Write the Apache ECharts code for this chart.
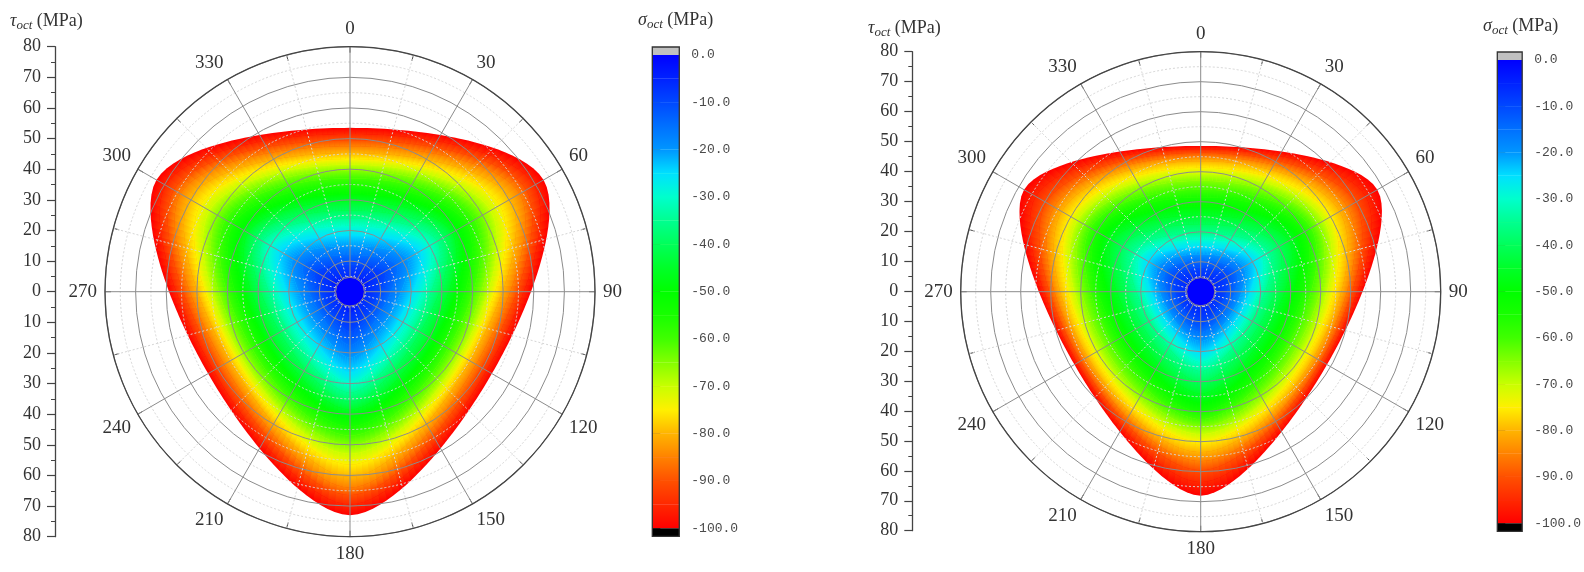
<!DOCTYPE html>
<html>
<head>
<meta charset="utf-8">
<title>octahedral stress failure surface</title>
<script src="https://cdn.jsdelivr.net/npm/echarts@6/dist/echarts.min.js"></script>
<style>
  html, body { margin: 0; padding: 0; background: #fff; }
  #chart { width: 1584px; height: 572px; }
</style>
</head>
<body>
<div id="chart"></div>
<script>
// sigma_oct levels (MPa), outermost contour first
const sigmaLevels = [-100, -95, -90, -85, -80, -75, -70, -65, -60, -55, -50,
  -45, -40, -35, -30, -25, -20, -15, -10, -5, 0];

// tau_oct radius on the tension meridian (0/120/240) and compression meridian (60/180/300)
const leftTension = [53.5, 51.5, 49.5, 47.5, 45.3, 43.3, 41.5, 39.5, 37, 34.5, 32,
  29.5, 26.5, 24, 21.5, 18.5, 15, 12, 9, 5, 0];
const leftCompression = [73, 69.5, 66.5, 64, 60.5, 56.5, 53, 50, 47, 44, 41,
  38.5, 36, 33, 30, 26.5, 21.5, 17.5, 13, 7, 0];
const rightTension = [48.6, 47.5, 46.3, 45, 43.5, 41.3, 39.3, 37, 34, 31.5, 28.5,
  25.5, 22.5, 19.5, 17.5, 15, 12.5, 10.5, 8, 4.5, 0];
const rightCompression = [68, 63.5, 59.5, 56.5, 53.5, 50, 47.5, 45, 42.5, 40, 37.2,
  34, 30, 26.5, 23.5, 20.5, 16.5, 13.5, 10.5, 5.5, 0];

const angleTicks = [0, 30, 60, 90, 120, 150, 180, 210, 240, 270, 300, 330];

// colour map, from -100 to 0
const jetColors = ['#ff0000', '#ff2800', '#ff5000', '#ff8200', '#ffb400', '#fff000',
  '#c8ff00', '#84ff00', '#40ff00', '#18ff00', '#00ff00', '#00ff28', '#00ff5a',
  '#00ff90', '#00ffcc', '#00e0ff', '#0096ff', '#0070ff', '#0048ff', '#0022ff', '#0000ff'];

const serif = 'Liberation Serif';

// Willam-Warnke elliptic deviatoric trace
function wwRadius(rt, rc, lode) {
  if (rc <= 0) return 0;
  const c = Math.cos(lode);
  const d = rc * rc - rt * rt;
  const num = 2 * rc * d * c + rc * (2 * rt - rc) * Math.sqrt(4 * d * c * c + 5 * rt * rt - 4 * rt * rc);
  const den = 4 * d * c * c + (rc - 2 * rt) * (rc - 2 * rt);
  return num / den;
}

function contourPoints(api, rt, rc) {
  const pts = [];
  for (let phi = 0; phi <= 360; phi += 2) {
    let lode = phi % 120;
    if (lode > 60) lode = 120 - lode;
    const r = wwRadius(rt, rc, lode * Math.PI / 180);
    pts.push(api.coord([r, phi]));
  }
  return pts;
}

function surfaceRenderer(tension, compression) {
  return function (params, api) {
    const k = params.dataIndex;
    const color = api.visual('color');
    const clear = echarts.color.modifyAlpha(color, 0);
    const here = contourPoints(api, tension[k], compression[k]);
    const children = [{ type: 'polygon', shape: { points: here }, style: { fill: color } }];
    if (k > 0) {
      // blend from the previous (outer) level into this one
      const prev = contourPoints(api, tension[k - 1], compression[k - 1]);
      for (let i = 0; i < here.length - 1; i++) {
        const a = prev[i], b = prev[i + 1], c = here[i + 1], d = here[i];
        const x1 = (a[0] + b[0]) / 2, y1 = (a[1] + b[1]) / 2;
        const x2 = (c[0] + d[0]) / 2, y2 = (c[1] + d[1]) / 2;
        children.push({
          type: 'polygon',
          shape: { points: [a, b, c, d] },
          style: {
            fill: new echarts.graphic.LinearGradient(x1, y1, x2, y2,
              [{ offset: 0, color: clear }, { offset: 1, color: color }], true)
          }
        });
      }
    }
    return { type: 'group', children: children };
  };
}

// small apex disc drawn over the converging grid lines
function apexRenderer(params, api) {
  const c = api.coord([0, 0]);
  const e = api.coord([4.7, 90]);
  return {
    type: 'circle',
    shape: { cx: c[0], cy: c[1], r: e[0] - c[0] },
    style: { fill: api.visual('color'), stroke: '#8c8c8c', lineWidth: 1 }
  };
}

function colorbarRenderer(params, api) {
  const k = params.dataIndex;
  const color = api.visual('color');
  const clear = echarts.color.modifyAlpha(color, 0);
  const p = api.coord([0, sigmaLevels[k]]);
  const x0 = p[0];
  const x1 = api.coord([1, sigmaLevels[k]])[0];
  const y = p[1];
  const children = [];
  if (k < sigmaLevels.length - 1) {
    const yUp = api.coord([0, sigmaLevels[k + 1]])[1];
    children.push({ type: 'rect', shape: { x: x0, y: yUp, width: x1 - x0, height: y - yUp }, style: { fill: color } });
  }
  if (k > 0) {
    const yDown = api.coord([0, sigmaLevels[k - 1]])[1];
    children.push({
      type: 'rect',
      shape: { x: x0, y: y, width: x1 - x0, height: yDown - y },
      style: {
        fill: new echarts.graphic.LinearGradient(0, yDown, 0, y,
          [{ offset: 0, color: clear }, { offset: 1, color: color }], true)
      }
    });
  }
  if (k === 0) {
    children.push({ type: 'rect', shape: { x: x0, y: y, width: x1 - x0, height: 8 }, style: { fill: '#000' } });
  }
  if (k === sigmaLevels.length - 1) {
    const yBottom = api.coord([0, sigmaLevels[0]])[1];
    children.push({ type: 'rect', shape: { x: x0, y: y - 8, width: x1 - x0, height: 8 }, style: { fill: '#c0c0c0' } });
    children.push({
      type: 'rect',
      shape: { x: x0, y: y - 8, width: x1 - x0, height: yBottom - y + 16 },
      style: { fill: 'none', stroke: '#333', lineWidth: 1.3 }
    });
  }
  return { type: 'group', children: children };
}

const levelData = sigmaLevels.map((s, i) => [s, i]);
const barData = sigmaLevels.map(s => [s, 0]);
const apexData = [[sigmaLevels[sigmaLevels.length - 1], 0]];

function angleAxisOf(index) {
  return {
    polarIndex: index,
    type: 'value',
    min: 0,
    max: 360,
    interval: 30,
    startAngle: 90,
    clockwise: true,
    z: 6,
    axisLine: { lineStyle: { color: '#444', width: 1.3 } },
    axisTick: { show: true, inside: true, length: 6, lineStyle: { color: '#444' } },
    minorTick: { show: true, splitNumber: 2, length: 6, lineStyle: { color: '#444' } },
    axisLabel: {
      margin: 8, fontSize: 19, fontFamily: serif, color: '#333',
      formatter: v => (angleTicks.indexOf(v) >= 0 ? String(v) : '')
    },
    splitLine: { show: true, lineStyle: { color: '#8c8c8c', width: 1 } },
    minorSplitLine: { show: true, lineStyle: { color: '#d6d6d6', width: 1, type: [2, 2] } }
  };
}

function radiusAxisOf(index) {
  return {
    polarIndex: index,
    type: 'value',
    min: 0,
    max: 80,
    interval: 10,
    z: 5,
    axisLine: { show: false },
    axisTick: { show: false },
    axisLabel: { show: false },
    minorTick: { show: false, splitNumber: 2 },
    splitLine: { show: true, lineStyle: { color: '#8c8c8c', width: 1 } },
    minorSplitLine: { show: true, lineStyle: { color: '#d6d6d6', width: 1, type: [2, 2] } }
  };
}

function tauAxisOf(index) {
  return {
    gridIndex: index,
    type: 'value',
    min: -80,
    max: 80,
    interval: 10,
    axisLine: { show: true, lineStyle: { color: '#444', width: 1.3 } },
    axisTick: { show: true, length: 8, lineStyle: { color: '#444', width: 1.2 } },
    minorTick: { show: true, splitNumber: 2, length: 4, lineStyle: { color: '#444' } },
    splitLine: { show: false },
    axisLabel: { margin: 14, fontSize: 18, fontFamily: serif, color: '#333', formatter: v => String(Math.abs(v)) }
  };
}

function barAxisOf(index) {
  return {
    gridIndex: index,
    type: 'value',
    position: 'right',
    min: -100,
    max: 0,
    interval: 10,
    axisLine: { show: false },
    axisTick: { show: true, length: 8, lineStyle: { color: '#333', width: 1.5 } },
    splitLine: { show: false },
    axisLabel: { margin: 12, fontSize: 13, fontFamily: 'Liberation Mono', color: '#4a4a4a', formatter: v => v.toFixed(1) }
  };
}

const titleRich = {
  g: { fontFamily: serif, fontStyle: 'italic', fontSize: 18, lineHeight: 22, fill: '#333', verticalAlign: 'middle' },
  s: { fontFamily: serif, fontStyle: 'italic', fontSize: 13, lineHeight: 12, fill: '#333', verticalAlign: 'bottom' },
  n: { fontFamily: serif, fontSize: 18, lineHeight: 22, fill: '#333', verticalAlign: 'middle' }
};

function axisTitle(symbol, x, y) {
  return {
    type: 'text',
    x: x,
    y: y,
    z: 10,
    style: { text: '{g|' + symbol + '}{s|oct}{n| (MPa)}', rich: titleRich, verticalAlign: 'middle' }
  };
}

const chart = echarts.init(document.getElementById('chart'));
chart.setOption({
  animation: false,
  backgroundColor: '#fff',
  graphic: [
    axisTitle('τ', 10, 21),
    axisTitle('τ', 868, 28),
    axisTitle('σ', 638, 20),
    axisTitle('σ', 1483, 26)
  ],
  polar: [
    { center: [350, 291.7], radius: 245 },
    { center: [1200.7, 291.7], radius: 240 }
  ],
  angleAxis: [angleAxisOf(0), angleAxisOf(1)],
  radiusAxis: [radiusAxisOf(0), radiusAxisOf(1)],
  grid: [
    { left: 55, width: 1, top: 46.7, bottom: 35.3 },
    { left: 912.3, width: 1, top: 51.7, bottom: 41.3 },
    { left: 652.3, width: 27, top: 55, bottom: 43.7 },
    { left: 1497.3, width: 27, top: 60, bottom: 48.7 }
  ],
  xAxis: [0, 1, 2, 3].map(i => ({ gridIndex: i, type: 'value', min: 0, max: 1, show: false })),
  yAxis: [tauAxisOf(0), tauAxisOf(1), barAxisOf(2), barAxisOf(3)],
  visualMap: {
    type: 'continuous',
    show: false,
    min: -100,
    max: 0,
    dimension: 0,
    seriesIndex: [0, 1, 2, 3, 4, 5],
    inRange: { color: jetColors }
  },
  series: [
    {
      type: 'custom', coordinateSystem: 'polar', polarIndex: 0, silent: true, z: 2,
      data: levelData, renderItem: surfaceRenderer(leftTension, leftCompression)
    },
    {
      type: 'custom', coordinateSystem: 'polar', polarIndex: 1, silent: true, z: 2,
      data: levelData, renderItem: surfaceRenderer(rightTension, rightCompression)
    },
    {
      type: 'custom', coordinateSystem: 'cartesian2d', xAxisIndex: 2, yAxisIndex: 2, silent: true,
      encode: { x: 1, y: 0 }, data: barData, renderItem: colorbarRenderer
    },
    {
      type: 'custom', coordinateSystem: 'cartesian2d', xAxisIndex: 3, yAxisIndex: 3, silent: true,
      encode: { x: 1, y: 0 }, data: barData, renderItem: colorbarRenderer
    },
    {
      type: 'custom', coordinateSystem: 'polar', polarIndex: 0, silent: true, z: 8,
      data: apexData, renderItem: apexRenderer
    },
    {
      type: 'custom', coordinateSystem: 'polar', polarIndex: 1, silent: true, z: 8,
      data: apexData, renderItem: apexRenderer
    }
  ]
});
</script>
</body>
</html>
